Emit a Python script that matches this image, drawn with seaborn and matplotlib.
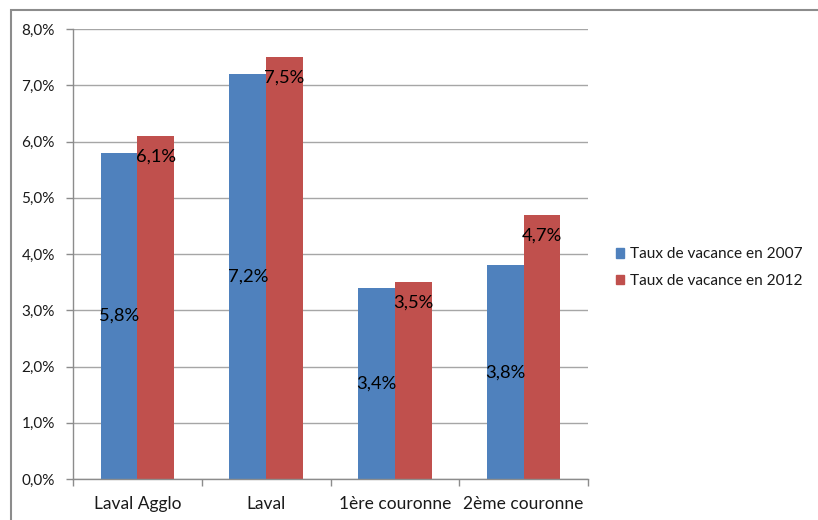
import matplotlib
matplotlib.use("Agg")
import matplotlib.pyplot as plt
from matplotlib.patches import Rectangle
import seaborn as sns
import pandas as pd

# Vacancy rates (in %) by zone
zones = ["Laval Agglo", "Laval", "1ère couronne", "2ème couronne"]
taux_2007 = [5.8, 7.2, 3.4, 3.8]
taux_2012 = [6.1, 7.5, 3.5, 4.7]
series = ["Taux de vacance en 2007", "Taux de vacance en 2012"]
y_ticks = [0, 1, 2, 3, 4, 5, 6, 7, 8]

colors = ["#4F81BD", "#C0504D"]

df = pd.DataFrame({
    "zone": zones * 2,
    "taux": taux_2007 + taux_2012,
    "serie": [series[0]] * len(zones) + [series[1]] * len(zones),
})


def fmt(v):
    return f"{v:.1f}%".replace(".", ",")


sns.set_theme(style="white")
plt.rcParams["font.family"] = ["Lato", "DejaVu Sans"]

fig = plt.figure(figsize=(8.18, 5.2), dpi=100)
ax = fig.add_axes([73 / 818, 1 - 479 / 520, (588 - 73) / 818, (479 - 29) / 520])

sns.barplot(data=df, x="zone", y="taux", hue="serie", palette=colors,
            saturation=1, width=0.572, gap=0, dodge=True, ax=ax,
            edgecolor="none", linewidth=0, errorbar=None)

ax.set_xlim(-0.5, len(zones) - 0.5)
ax.set_ylim(0, 8)
ax.set_yticks(y_ticks)
ax.set_yticklabels([fmt(v) for v in y_ticks])
ax.set_xlabel("")
ax.set_ylabel("")

# Category boundaries carry the x tick marks; names sit at the centres
ax.set_xticks([i - 0.5 for i in range(len(zones) + 1)], minor=False)
ax.set_xticklabels([""] * (len(zones) + 1))
ax.set_xticks(range(len(zones)), minor=True)
ax.set_xticklabels(zones, minor=True)
ax.tick_params(axis="x", which="major", length=5, width=1, color="#8c8c8c",
               direction="out", bottom=True)
ax.tick_params(axis="x", which="minor", length=0, pad=12.5, labelsize=12.5,
               labelcolor="#1a1a1a")
ax.tick_params(axis="y", length=5, width=1, color="#8c8c8c", direction="out",
               left=True, pad=8, labelsize=11, labelcolor="#1a1a1a")

ax.grid(axis="y", color="#a6a6a6", linewidth=1)
ax.set_axisbelow(True)
for side in ["top", "right"]:
    ax.spines[side].set_visible(False)
for side in ["left", "bottom"]:
    ax.spines[side].set_color("#8c8c8c")
    ax.spines[side].set_linewidth(1)

# Data labels: centred for 2007, inside the top end for 2012
c2007, c2012 = ax.containers[0], ax.containers[1]
ax.bar_label(c2007, labels=[fmt(v) for v in taux_2007], label_type="center",
             fontsize=13.2, color="black")
for bar, v in zip(c2012, taux_2012):
    ax.annotate(fmt(v), (bar.get_x() + bar.get_width() / 2, bar.get_height()),
                xytext=(0, -15), textcoords="offset points",
                ha="center", va="center", fontsize=13.2, color="black")

ax.legend_.remove()
handles = [Rectangle((0, 0), 1, 1, color=c) for c in colors]
fig.legend(handles, series, loc="center left",
           bbox_to_anchor=(616 / 818, 1 - 267.5 / 520),
           bbox_transform=fig.transFigure, frameon=False, fontsize=11.1,
           handlelength=0.55, handleheight=0.55, handletextpad=0.35,
           labelspacing=0.8, borderpad=0, borderaxespad=0,
           labelcolor="#1a1a1a")

# Chart area outline
fig.patches.append(Rectangle((11 / 818, -0.1), 1.2, 1.1 - 10 / 520,
                             transform=fig.transFigure, fill=False,
                             edgecolor="#8c8c8c", linewidth=1.5))

fig.savefig("out.png", dpi=100)
